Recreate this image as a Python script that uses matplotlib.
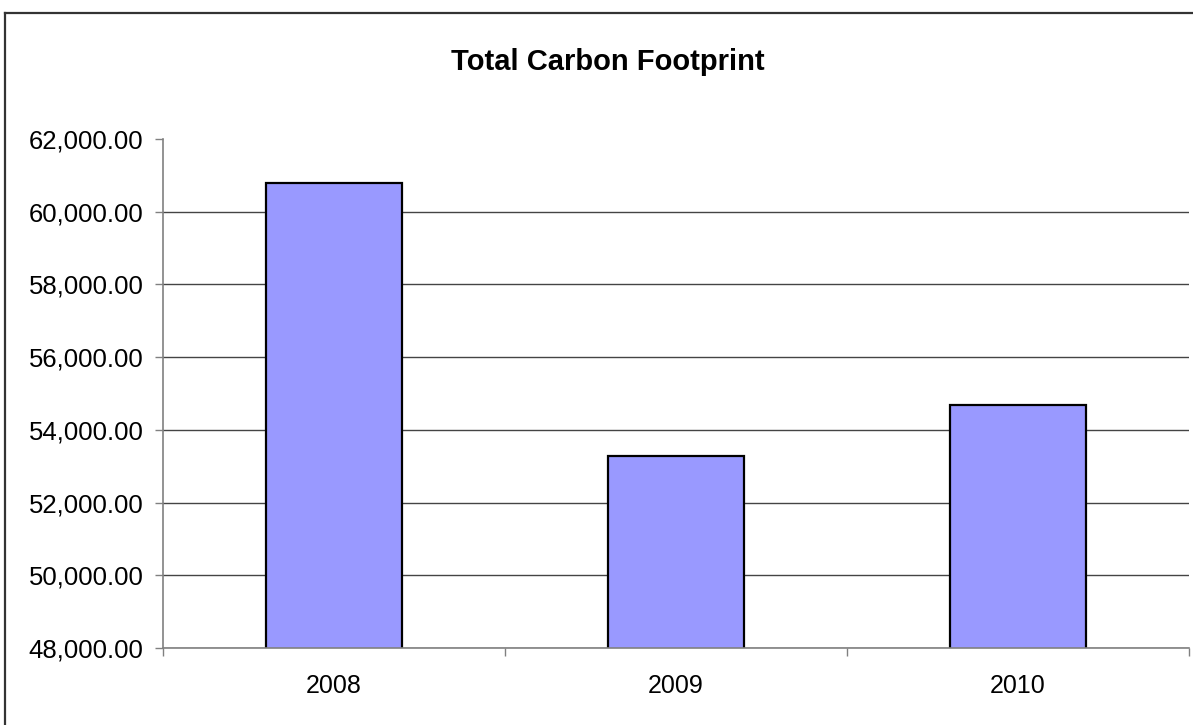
import matplotlib.pyplot as plt
from matplotlib.lines import Line2D
from matplotlib.ticker import FuncFormatter, FixedLocator

years = ['2008', '2009', '2010']
totals = [60790, 53280, 54680]
y_ticks = [48000, 50000, 52000, 54000, 56000, 58000, 60000, 62000]

plt.rcParams['font.family'] = ['Liberation Sans', 'DejaVu Sans']

W, H = 1193, 725
fig = plt.figure(figsize=(W / 100, H / 100), dpi=100)
ax = fig.add_axes([163 / W, 1 - 648 / H, (1189 - 163) / W, (648 - 139) / H])

x = list(range(len(years)))
ax.bar(x, totals, width=0.4, color='#9999FF', edgecolor='black', linewidth=1.6, zorder=3)

ax.set_xlim(-0.5, len(years) - 0.5)
ax.set_ylim(y_ticks[0], y_ticks[-1])
ax.set_yticks(y_ticks)
ax.yaxis.set_major_formatter(FuncFormatter(lambda v, p: f'{v:,.2f}'))

# gridlines everywhere except the top tick
for v in y_ticks[:-1]:
    ax.axhline(v, color='#444444', linewidth=1.0, zorder=0)

# category boundaries get the ticks, labels sit in the middle
ax.xaxis.set_major_locator(FixedLocator([i - 0.5 for i in range(len(years) + 1)]))
ax.xaxis.set_major_formatter(FuncFormatter(lambda v, p: ''))
ax.xaxis.set_minor_locator(FixedLocator(x))
ax.set_xticklabels(years, minor=True)

ax.tick_params(axis='y', labelsize=18.5, length=6, width=1, color='#808080', pad=8)
ax.tick_params(axis='x', which='major', length=6, width=1, color='#808080', direction='out')
ax.tick_params(axis='x', which='minor', labelsize=18, length=0, pad=19)

for side in ['top', 'right']:
    ax.spines[side].set_visible(False)
for side in ['left', 'bottom']:
    ax.spines[side].set_color('#808080')
    ax.spines[side].set_linewidth(1.2)
    ax.spines[side].set_zorder(4)

fig.text(608 / W, 1 - 62 / H, 'Total Carbon Footprint', ha='center', va='center',
         fontsize=21, fontweight='bold')

# outer chart border (left and top edges visible in the crop)
fig.add_artist(Line2D([4.5 / W, 4.5 / W], [0, 1 - 12.7 / H], transform=fig.transFigure,
                      color='#333333', linewidth=1.6))
fig.add_artist(Line2D([4.5 / W, 1], [1 - 12.7 / H, 1 - 12.7 / H], transform=fig.transFigure,
                      color='#333333', linewidth=1.6))

fig.savefig('out.png', dpi=100)
